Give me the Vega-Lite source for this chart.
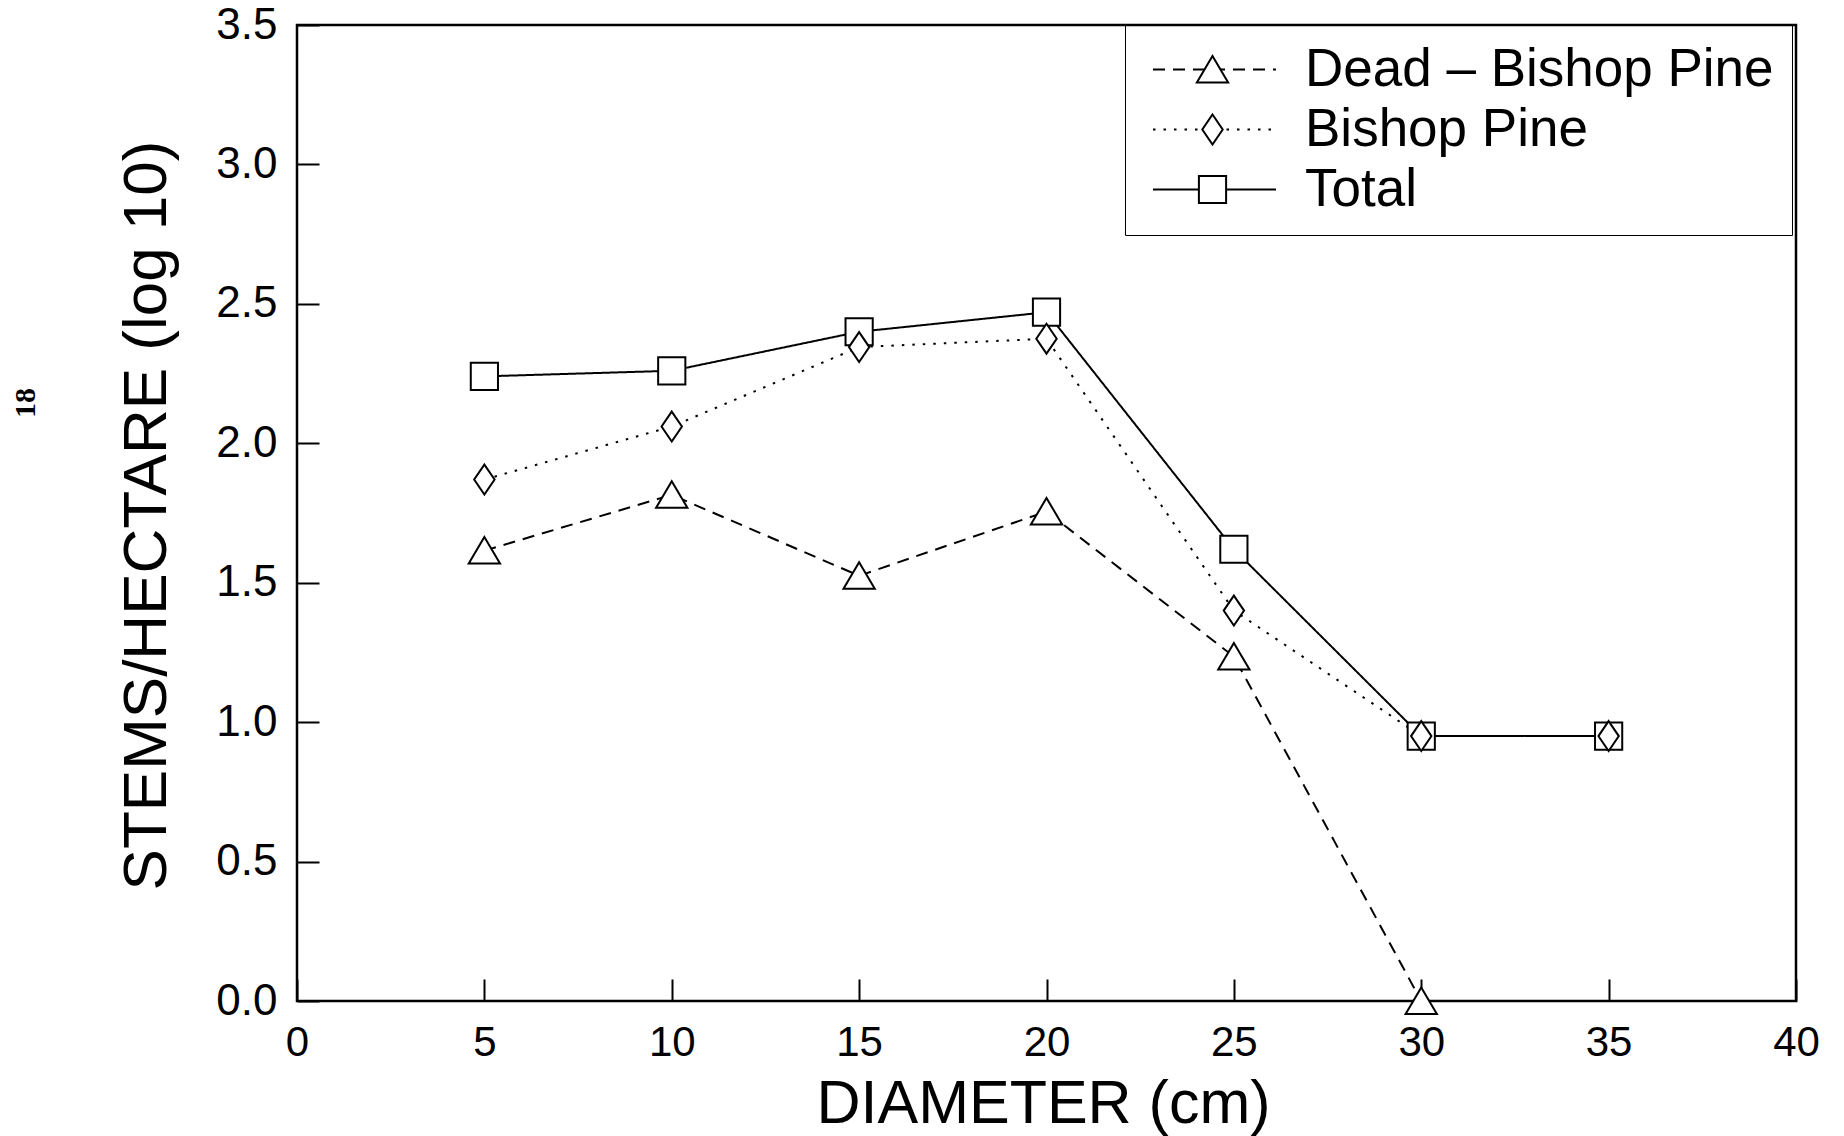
{
  "$schema": "https://vega.github.io/schema/vega-lite/v6.json",
  "width": 1499,
  "height": 976,
  "autosize": "none",
  "padding": {"left": 297, "top": 25, "right": 48, "bottom": 135},
  "background": "white",
  "config": {
    "view": {"stroke": "black", "strokeWidth": 2.5},
    "font": "Liberation Sans"
  },
  "title": {
    "text": "18",
    "orient": "left",
    "anchor": "middle",
    "angle": -90,
    "fontSize": 30,
    "fontWeight": "bold",
    "font": "Liberation Serif",
    "color": "black",
    "offset": 74,
    "dx": 110
  },
  "data": {
    "values": [
      {"diameter": 5, "value": 2.24, "series": "Total"},
      {"diameter": 10, "value": 2.26, "series": "Total"},
      {"diameter": 15, "value": 2.40, "series": "Total"},
      {"diameter": 20, "value": 2.47, "series": "Total"},
      {"diameter": 25, "value": 1.62, "series": "Total"},
      {"diameter": 30, "value": 0.95, "series": "Total"},
      {"diameter": 35, "value": 0.95, "series": "Total"},
      {"diameter": 5, "value": 1.87, "series": "Bishop Pine"},
      {"diameter": 10, "value": 2.06, "series": "Bishop Pine"},
      {"diameter": 15, "value": 2.345, "series": "Bishop Pine"},
      {"diameter": 20, "value": 2.375, "series": "Bishop Pine"},
      {"diameter": 25, "value": 1.40, "series": "Bishop Pine"},
      {"diameter": 30, "value": 0.95, "series": "Bishop Pine"},
      {"diameter": 35, "value": 0.95, "series": "Bishop Pine"},
      {"diameter": 5, "value": 1.615, "series": "Dead – Bishop Pine"},
      {"diameter": 10, "value": 1.815, "series": "Dead – Bishop Pine"},
      {"diameter": 15, "value": 1.525, "series": "Dead – Bishop Pine"},
      {"diameter": 20, "value": 1.755, "series": "Dead – Bishop Pine"},
      {"diameter": 25, "value": 1.235, "series": "Dead – Bishop Pine"},
      {"diameter": 30, "value": 0.0, "series": "Dead – Bishop Pine"}
    ]
  },
  "encoding": {
    "x": {
      "field": "diameter",
      "type": "quantitative",
      "scale": {"domain": [0, 40], "nice": false, "zero": false},
      "axis": {
        "title": "DIAMETER (cm)",
        "values": [0, 5, 10, 15, 20, 25, 30, 35, 40],
        "grid": false,
        "domain": false,
        "tickSize": -22,
        "tickWidth": 2,
        "tickColor": "black",
        "labelFontSize": 42,
        "labelColor": "black",
        "labelPadding": 43,
        "labelFlush": false,
        "labelFont": "Liberation Sans",
        "titleFont": "Liberation Sans",
        "titleFontSize": 61,
        "titleFontWeight": "normal",
        "titleColor": "black",
        "titleBaseline": "alphabetic",
        "titleX": 746,
        "titleY": 121
      }
    },
    "y": {
      "field": "value",
      "type": "quantitative",
      "scale": {"domain": [0, 3.5], "nice": false, "zero": false},
      "axis": {
        "title": "STEMS/HECTARE (log 10)",
        "values": [0, 0.5, 1, 1.5, 2, 2.5, 3, 3.5],
        "format": ".1f",
        "grid": false,
        "domain": false,
        "tickSize": -22,
        "tickWidth": 2,
        "tickColor": "black",
        "labelFontSize": 44,
        "labelColor": "black",
        "labelPadding": 42,
        "labelFlush": false,
        "labelFont": "Liberation Sans",
        "titleFont": "Liberation Sans",
        "titleFontSize": 62,
        "titleFontWeight": "normal",
        "titleColor": "black",
        "titleAngle": -90,
        "titleAlign": "center",
        "titleBaseline": "alphabetic",
        "titleX": -132,
        "titleY": 490
      }
    }
  },
  "layer": [
    {
      "mark": {"type": "line", "color": "black", "strokeWidth": 2},
      "encoding": {
        "strokeDash": {
          "field": "series",
          "type": "nominal",
          "scale": {
            "domain": ["Dead – Bishop Pine", "Bishop Pine", "Total"],
            "range": [[12, 8], [2.5, 8], [1, 0]]
          },
          "legend": {
            "orient": "none",
            "legendX": 828,
            "legendY": 0,
            "zindex": 1,
            "title": null,
            "values": ["Dead – Bishop Pine", "Bishop Pine", "Total"],
            "symbolType": "M-5,0L5,0",
            "symbolSize": 605,
            "symbolOffset": 45,
            "symbolStrokeWidth": 2,
            "symbolStrokeColor": "black",
            "labelFontSize": 53,
            "labelFont": "Liberation Sans",
            "labelColor": "black",
            "labelOffset": 64,
            "labelLimit": 1000,
            "rowPadding": 6,
            "padding": 18,
            "strokeColor": "black"
          }
        }
      }
    },
    {
      "mark": {"type": "point", "filled": true, "fill": "white", "fillOpacity": 1, "stroke": "black", "strokeWidth": 2, "opacity": 1, "size": 740},
      "encoding": {
        "shape": {
          "field": "series",
          "type": "nominal",
          "scale": {
            "domain": ["Bishop Pine", "Dead – Bishop Pine", "Total"],
            "range": ["M0,-1.1L0.75,0L0,1.1L-0.75,0Z", "M0,-1L1.15,0.95L-1.15,0.95Z", "square"]
          },
          "legend": {
            "orient": "none",
            "legendX": 828,
            "legendY": 0,
            "zindex": 2,
            "title": null,
            "values": ["Dead – Bishop Pine", "Bishop Pine", "Total"],
            "symbolSize": 740,
            "symbolOffset": 43,
            "symbolStrokeWidth": 2,
            "symbolStrokeColor": "black",
            "symbolFillColor": "white",
            "symbolOpacity": 1,
            "labelFontSize": 53,
            "labelExpr": "' '",
            "labelOpacity": 0,
            "labelLimit": 1000,
            "rowPadding": 6,
            "padding": 18,
            "encoding": {
              "symbols": {
                "stroke": {"value": "black"},
                "strokeWidth": {"value": 2},
                "strokeOpacity": {"value": 1},
                "fill": {"value": "white"},
                "fillOpacity": {"value": 1},
                "opacity": {"value": 1}
              }
            }
          }
        }
      }
    }
  ]
}
